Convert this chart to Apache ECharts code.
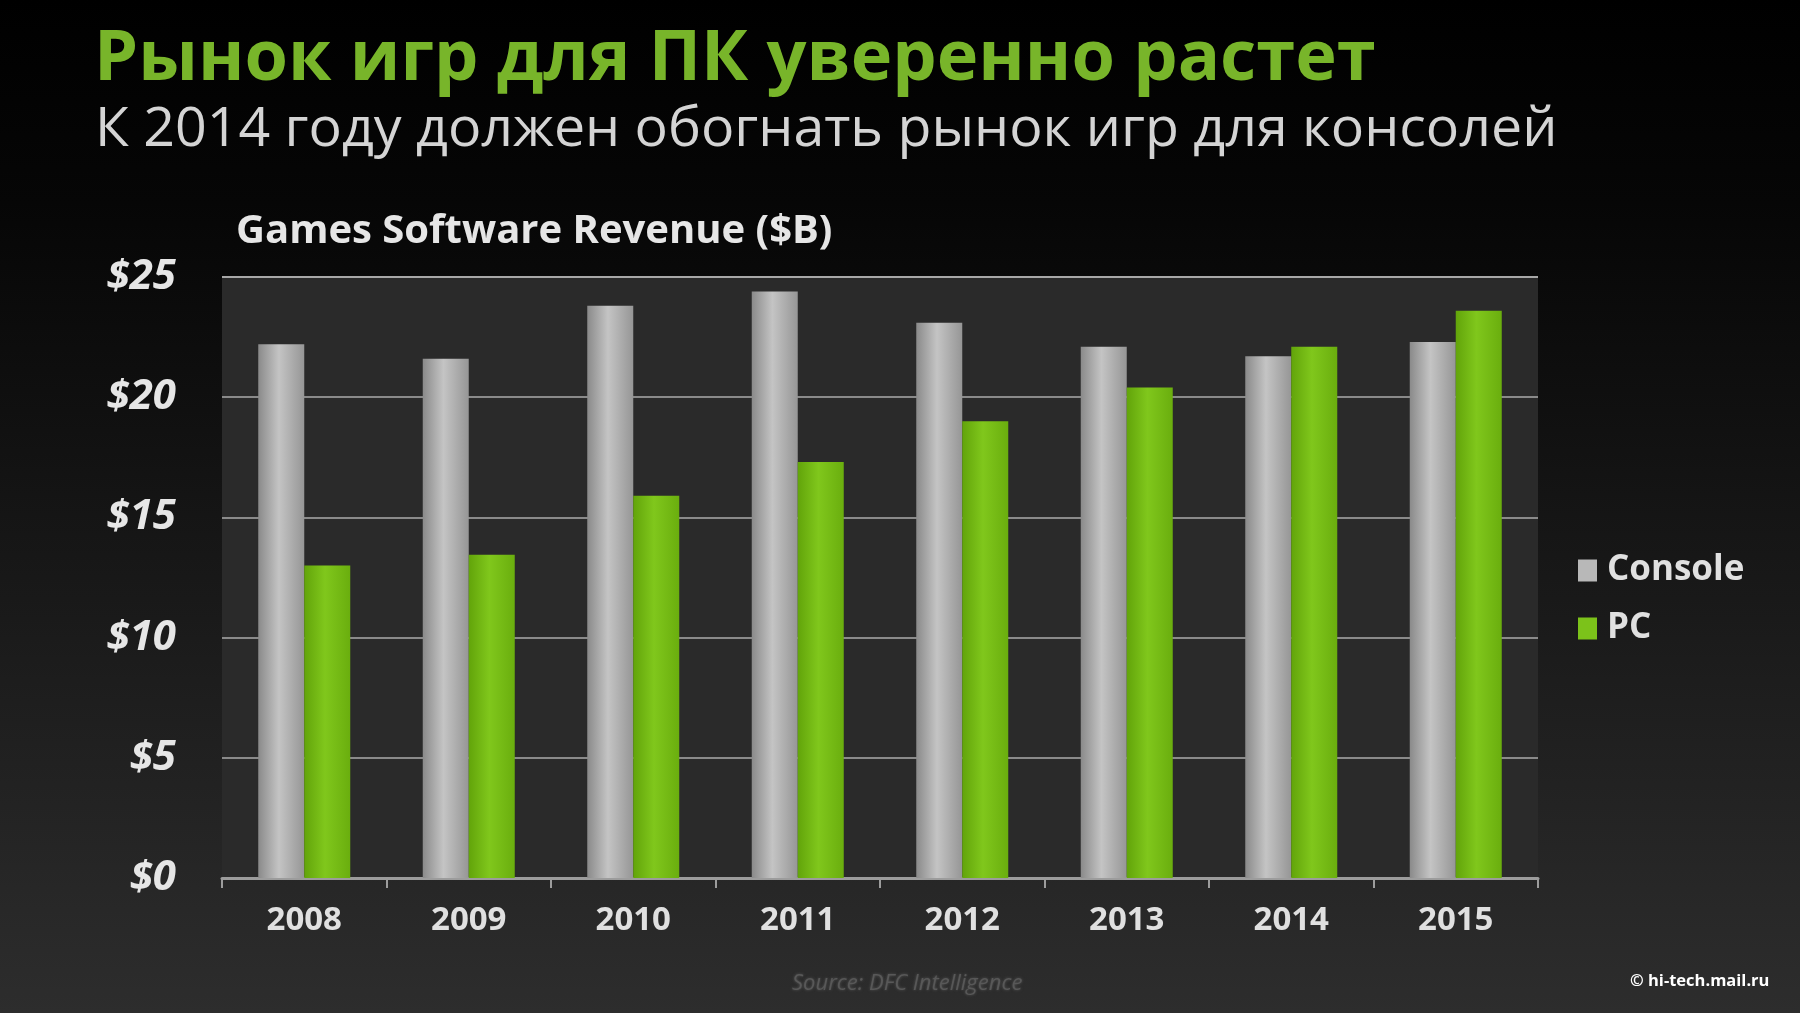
<!DOCTYPE html>
<html>
<head>
<meta charset="utf-8">
<script src="https://cdn.jsdelivr.net/npm/echarts@6/dist/echarts.min.js"></script>
<style>
html,body{margin:0;padding:0;background:#000;}
#chart{width:1800px;height:1013px;}
</style>
</head>
<body>
<div id="chart"></div>
<script>
const years = ['2008','2009','2010','2011','2012','2013','2014','2015'];
const consoleRevenue = [22.2, 21.6, 23.8, 24.4, 23.1, 22.1, 21.7, 22.3];
const pcRevenue = [13.0, 13.45, 15.9, 17.3, 19.0, 20.4, 22.1, 23.6];
const yTicks = [0, 5, 10, 15, 20, 25];

const chart = echarts.init(document.getElementById('chart'));
const grad = (stops) => ({type:'linear', x:0, y:0, x2:1, y2:0, colorStops: stops});

chart.setOption({
  backgroundColor: {type:'linear', x:0, y:0, x2:0, y2:1, colorStops:[
    {offset:0, color:'#000000'}, {offset:0.2, color:'#060606'}, {offset:1, color:'#2d2d2d'}]},
  animation: false,
  title: [
    {text:'Рынок игр для ПК уверенно растет', left:89, top:20,
     textStyle:{color:'#78b52a', fontFamily:'Open Sans', fontWeight:'bold', fontSize:70.3}},
    {text:'К 2014 году должен обогнать рынок игр для консолей', left:90, top:97,
     textStyle:{color:'#d4d4d4', fontFamily:'Open Sans', fontWeight:'normal', fontSize:55.5}},
    {text:'Games Software Revenue ($B)', left:231, top:207,
     textStyle:{color:'#e6e6e6', fontFamily:'Open Sans', fontWeight:'bold', fontSize:40}}
  ],
  legend: {
    orient:'vertical', left:1573, top:548, itemGap:23,
    icon:'rect', itemWidth:19, itemHeight:22,
    textStyle:{color:'#e0e0e0', fontFamily:'Open Sans', fontWeight:'bold', fontSize:35, padding:[0,0,0,5]},
    data:[
      {name:'Console', itemStyle:{color:'#b8b8b8'}},
      {name:'PC', itemStyle:{color:'#7cc21a'}}
    ]
  },
  grid: {left:222, top:277, right:262, bottom:135, show:true, backgroundColor:'#2a2a2a', borderWidth:0},
  xAxis: {
    type:'category', data: years,
    axisLine:{lineStyle:{color:'#9c9c9c', width:3}},
    axisTick:{show:true, length:10, lineStyle:{color:'#9c9c9c', width:2}},
    axisLabel:{color:'#e0e0e0', fontFamily:'Open Sans', fontWeight:'bold', fontSize:33, margin:26}
  },
  yAxis: {
    type:'value', min:0, max:25, interval:5,
    axisLine:{show:false}, axisTick:{show:false},
    axisLabel:{color:'#e6e6e6', fontFamily:'Open Sans', fontWeight:'bold', fontStyle:'italic', fontSize:42, margin:46,
      formatter: v => yTicks.includes(v) ? '$' + v : ''},
    splitLine:{lineStyle:{color:['#8a8a8a','#8a8a8a','#8a8a8a','#8a8a8a','#8a8a8a','#a8a8a8'], width:2}}
  },
  series: [
    {name:'Console', type:'bar', data: consoleRevenue, barWidth:46, barGap:'0%',
     itemStyle:{color: grad([{offset:0,color:'#8a8a8a'},{offset:0.45,color:'#c4c4c4'},{offset:1,color:'#969696'}])}},
    {name:'PC', type:'bar', data: pcRevenue, barWidth:46,
     itemStyle:{color: grad([{offset:0,color:'#62a40a'},{offset:0.45,color:'#80c71c'},{offset:1,color:'#6aae0e'}])}}
  ],
  graphic: [
    {type:'text', left:792, top:973, style:{text:'Source: DFC Intelligence', fill:'#585858', font:'italic 22px "Open Sans"', textShadowColor:'#585858', textShadowBlur:3}},
    {type:'text', left:1630, top:973, style:{text:'© hi-tech.mail.ru', fill:'#ffffff', font:'bold 16.5px "Open Sans"'}}
  ]
});
</script>
</body>
</html>
